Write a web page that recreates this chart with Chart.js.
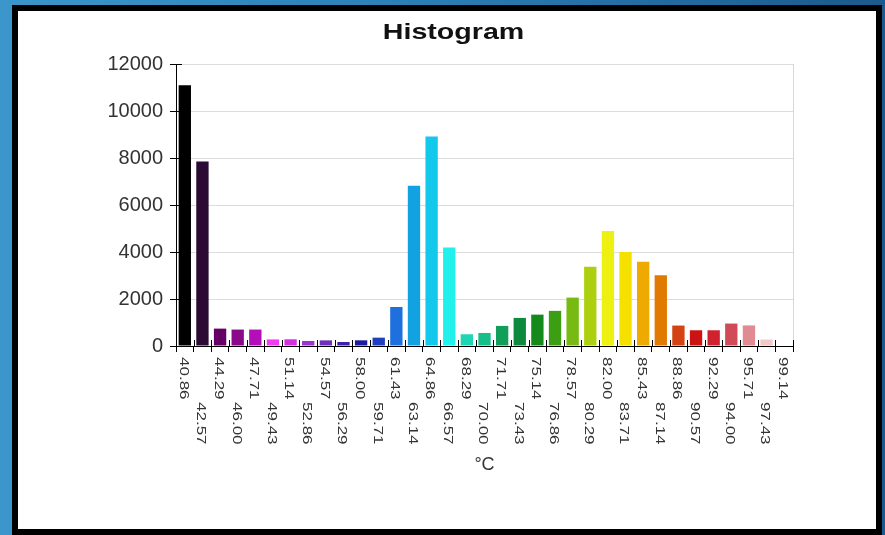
<!DOCTYPE html>
<html>
<head>
<meta charset="utf-8">
<script src="https://cdn.jsdelivr.net/npm/chart.js@4/dist/chart.umd.min.js"></script>
<style>
  html, body { margin: 0; padding: 0; width: 885px; height: 535px; overflow: hidden; }
  body { position: relative; background: linear-gradient(90deg, #3b96cb 0%, #2c80b7 45%, #1b5a8c 100%); }
  #frame { position: absolute; left: 12px; top: 5px; width: 858px; height: 518px;
           border: 6px solid #000; background: #fff; }
  canvas { display: block; }
</style>
</head>
<body>
<div id="frame"><canvas id="hist" width="858" height="518"></canvas></div>
<script>
// Temperature bins (°C, lower edge of each bin)
const binLabels = [
  '40.86', '42.57', '44.29', '46.00', '47.71', '49.43', '51.14', '52.86', '54.57',
  '56.29', '58.00', '59.71', '61.43', '63.14', '64.86', '66.57', '68.29', '70.00',
  '71.71', '73.43', '75.14', '76.86', '78.57', '80.29', '82.00', '83.71', '85.43',
  '87.14', '88.86', '90.57', '92.29', '94.00', '95.71', '97.43', '99.14'
];

// Pixel count per bin
const counts = [
  11100, 7850, 740, 700, 700, 280, 285, 215, 240,
  170, 242, 355, 1660, 6820, 8910, 4190, 500, 555,
  855, 1195, 1335, 1495, 2060, 3370, 4890, 4005, 3580,
  3010, 870, 670, 670, 955, 875, 275, 0
];

// Palette: one colour per bin, following the thermal colour scale
const barColors = [
  '#000000', '#2b0a33', '#660066', '#8a0a8a', '#b30fb8', '#f23cf2', '#d42ee0', '#9b33cc', '#6e2fbf',
  '#4020a8', '#1c1aa0', '#1f3fbf', '#1d70dd', '#12a2e2', '#14c8ec', '#22f0ea', '#1ed6b4', '#16bf8a',
  '#119e5a', '#0e8a3e', '#148a1c', '#3c9e12', '#76ba12', '#acd010', '#eef012', '#f6e000', '#eeaa00',
  '#e07a00', '#d44412', '#cc1212', '#d0222e', '#d04a58', '#e08a92', '#f2c8c8', '#ffffff'
];

const chartTitle = 'Histogram';
const yMax = 12000;
const yStep = 2000;

// Title, crossing tick marks, plot frame edge and staggered vertical bin labels
const axisMarks = {
  id: 'axisMarks',
  afterDraw(chart) {
    const { ctx, chartArea: a, scales: { x, y } } = chart;
    ctx.save();

    // heading, drawn wide
    ctx.fillStyle = '#111';
    ctx.font = 'bold 22px "Liberation Sans", Arial, sans-serif';
    ctx.textAlign = 'center';
    ctx.textBaseline = 'alphabetic';
    ctx.save();
    ctx.translate(435.5, 27.5);
    ctx.scale(1.3, 1);
    ctx.fillText(chartTitle, 0, 0);
    ctx.restore();

    ctx.strokeStyle = '#d9d9d9';
    ctx.lineWidth = 1;
    ctx.beginPath();
    ctx.moveTo(Math.round(a.right) + 0.5, a.top);
    ctx.lineTo(Math.round(a.right) + 0.5, a.bottom);
    ctx.stroke();

    ctx.strokeStyle = '#000';
    ctx.beginPath();
    y.ticks.forEach((t, i) => {
      const py = Math.round(y.getPixelForTick(i)) + 0.5;
      ctx.moveTo(a.left, py);
      ctx.lineTo(a.left + 6, py);
    });
    for (let i = 0; i <= binLabels.length; i++) {
      const px = Math.round(x.getPixelForValue(i - 0.5)) + 0.5;
      ctx.moveTo(px, a.bottom);
      ctx.lineTo(px, a.bottom - 6);
    }
    ctx.stroke();

    ctx.fillStyle = '#333';
    ctx.font = '17px "Liberation Sans", Arial, sans-serif';
    ctx.textAlign = 'left';
    ctx.textBaseline = 'middle';
    binLabels.forEach((lab, i) => {
      const px = x.getPixelForValue(i) - 1.5;
      const top = a.bottom + (i % 2 === 0 ? 11 : 56);
      ctx.save();
      ctx.translate(px, top);
      ctx.scale(0.78, 1);
      ctx.rotate(Math.PI / 2);
      ctx.fillText(lab, 0, 0);
      ctx.restore();
    });
    ctx.restore();
  }
};

new Chart(document.getElementById('hist'), {
  type: 'bar',
  data: {
    labels: binLabels,
    datasets: [{
      data: counts,
      backgroundColor: barColors,
      borderWidth: 0,
      barPercentage: 0.7,
      categoryPercentage: 1
    }]
  },
  options: {
    responsive: false,
    animation: false,
    layout: { padding: { left: 0, right: 83, top: 53, bottom: 53 } },
    plugins: {
      legend: { display: false },
      tooltip: { enabled: false },
      title: { display: false }
    },
    scales: {
      x: {
        type: 'category',
        offset: true,
        grid: { offset: true, drawOnChartArea: false, drawTicks: true, tickLength: 6, tickColor: '#000', color: '#000' },
        border: { color: '#000', width: 1 },
        ticks: { display: false },
        title: {
          display: true,
          text: '°C',
          color: '#333',
          font: { family: '"Liberation Sans", Arial, sans-serif', size: 18 },
          padding: { top: 0, bottom: 0 }
        },
        afterFit(s) { s.height = 130; }
      },
      y: {
        min: 0,
        max: yMax,
        ticks: {
          stepSize: yStep,
          color: '#333',
          padding: 7,
          font: { family: '"Liberation Sans", Arial, sans-serif', size: 20 },
          callback: v => String(v)
        },
        grid: { color: '#dcdcdc', tickColor: '#000', tickLength: 6 },
        border: { color: '#000', width: 1 },
        afterFit(s) { s.width = 158; }
      }
    }
  },
  plugins: [axisMarks]
});
</script>
</body>
</html>
